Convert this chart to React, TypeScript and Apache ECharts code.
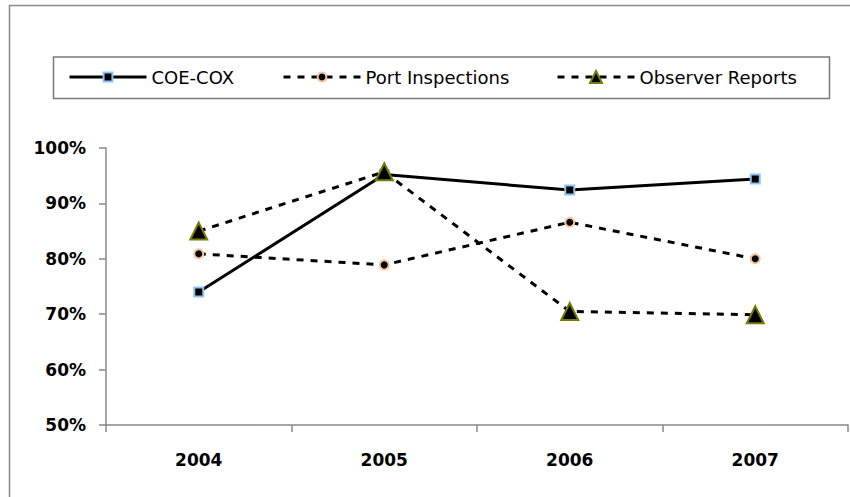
import React, { useEffect, useRef } from "react";
import * as echarts from "echarts";

const categories = ["2004", "2005", "2006", "2007"];
const coeCox = [74.0, 95.2, 92.4, 94.4];
const portInspections = [80.9, 78.9, 86.6, 80.0];
const observerReports = [85.0, 95.7, 70.5, 69.9];
const seriesNames = ["COE-COX", "Port Inspections", "Observer Reports"];

export default function App() {
  const ref = useRef<HTMLDivElement>(null);
  useEffect(() => {
    if (!ref.current) return;
    const chart = echarts.init(ref.current, null, { renderer: "svg" });
    const legendText = { fontFamily: "DejaVu Sans", fontSize: 18, color: "#000", lineHeight: 20 };
    const legendBase = {
      itemWidth: 77,
      padding: 0,
      textStyle: legendText,
      selectedMode: false,
      lineStyle: { width: 3 },
    };
    chart.setOption({
      animation: false,
      backgroundColor: "#fff",
      grid: { left: 106, right: 2, top: 148, bottom: 72, containLabel: false },
      graphic: [
        {
          type: "rect",
          shape: { x: 9.5, y: 5.5, width: 1000, height: 1000 },
          style: { fill: "none", stroke: "#8a8a8a", lineWidth: 1.5 },
          silent: true,
        },
        {
          type: "rect",
          shape: { x: 53.5, y: 57, width: 776, height: 41.5 },
          style: { fill: "none", stroke: "#7a7a7a", lineWidth: 1.5 },
          silent: true,
        },
      ],
      legend: [
        { ...legendBase, top: 67, itemHeight: 11, left: 68, data: [seriesNames[0]] },
        { ...legendBase, top: 67, itemHeight: 11, left: 282, data: [seriesNames[1]] },
        { ...legendBase, top: 67, itemHeight: 15, left: 556, data: [seriesNames[2]] },
      ],
      xAxis: {
        type: "category",
        data: categories,
        boundaryGap: true,
        axisLine: { lineStyle: { color: "#888", width: 1.5 } },
        axisTick: { show: true, length: 7, alignWithLabel: false, lineStyle: { color: "#888", width: 1.5 } },
        axisLabel: {
          margin: 26,
          fontFamily: "DejaVu Sans",
          fontWeight: "bold",
          fontSize: 17,
          color: "#000",
        },
        splitLine: { show: false },
      },
      yAxis: {
        type: "value",
        min: 50,
        max: 100,
        interval: 10,
        axisLine: { show: true, lineStyle: { color: "#888", width: 1.5 } },
        axisTick: { show: true, length: 7, lineStyle: { color: "#888", width: 1.5 } },
        axisLabel: {
          margin: 20,
          formatter: "{value}%",
          fontFamily: "DejaVu Sans",
          fontWeight: "bold",
          fontSize: 17,
          color: "#000",
        },
        splitLine: { show: false },
      },
      series: [
        {
          name: seriesNames[0],
          type: "line",
          data: coeCox,
          symbol: "rect",
          symbolSize: 9,
          lineStyle: { color: "#000", width: 3, type: "solid" },
          itemStyle: { color: "#000", borderColor: "#8DC3F2", borderWidth: 2 },
        },
        {
          name: seriesNames[1],
          type: "line",
          data: portInspections,
          symbol: "circle",
          symbolSize: 9,
          lineStyle: { color: "#000", width: 3, type: [7, 7] },
          itemStyle: { color: "#000", borderColor: "#F8C49F", borderWidth: 2 },
        },
        {
          name: seriesNames[2],
          type: "line",
          data: observerReports,
          symbol: "triangle",
          symbolSize: 17,
          lineStyle: { color: "#000", width: 3, type: [7, 7] },
          itemStyle: { color: "#000", borderColor: "#7A7A00", borderWidth: 2 },
        },
      ],
    });
    return () => chart.dispose();
  }, []);
  return (
    <div
      ref={ref}
      style={{ position: "fixed", left: 0, top: 0, width: 850, height: 497, background: "#fff" }}
    />
  );
}
